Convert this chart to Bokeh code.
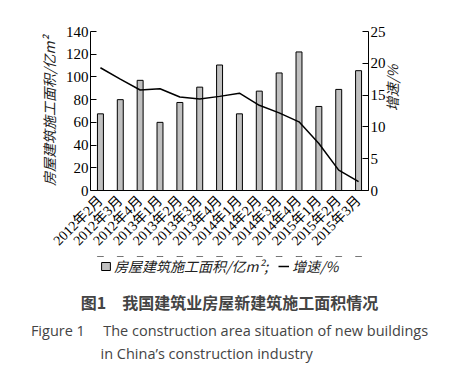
import math
from bokeh.plotting import figure
from bokeh.layouts import column
from bokeh.models import (Range1d, LinearAxis, Legend, LegendItem, Title,
                          FixedTicker, ColumnDataSource)
from bokeh.embed import file_html
from bokeh.resources import INLINE

categories = ["2012年2月", "2012年3月", "2012年4月", "2013年1月", "2013年2月",
              "2013年3月", "2013年4月", "2014年1月", "2014年2月", "2014年3月",
              "2014年4月", "2015年1月", "2015年2月", "2015年3月"]
area = [67.5, 80, 97, 60, 77.5, 91, 110.5, 67.5, 87.5, 103.5, 122, 74, 89, 105.5]
growth = [19.3, 17.5, 15.8, 16.0, 14.7, 14.4, 14.8, 15.3, 13.4, 12.2, 10.8, 7.4, 3.2, 1.4]
left_ticks = [0, 20, 40, 60, 80, 100, 120, 140]
right_ticks = [0, 5, 10, 15, 20, 25]

SERIF = "Liberation Serif, Noto Sans CJK SC"
CJK = "Noto Sans CJK SC"
BAR_STYLE = dict(fill_color="#c0c0c0", line_color="black", line_width=1)
LINE_STYLE = dict(line_color="black", line_width=1.5)

src = ColumnDataSource(dict(cat=categories, area=area, growth=growth))

p = figure(x_range=categories, y_range=Range1d(0, 140),
           width=440, height=256,
           min_border_left=90, min_border_right=72, min_border_top=31,
           min_border_bottom=58,
           output_backend="svg", toolbar_location=None,
           background_fill_color="white", border_fill_color="white")
p.extra_y_ranges = {"pct": Range1d(0, 25)}
p.outline_line_color = None
p.xgrid.grid_line_color = None
p.ygrid.grid_line_color = None
p.x_range.range_padding = 0

p.vbar(x="cat", top="area", width=0.3, source=src, **BAR_STYLE)
p.line(x="cat", y="growth", source=src, y_range_name="pct", **LINE_STYLE)

# left axis
ya = p.yaxis[0]
ya.ticker = FixedTicker(ticks=left_ticks)
ya.axis_label = "房屋建筑施工面积/亿m²"
ya.axis_label_text_font = CJK
ya.axis_label_text_font_style = "italic"
ya.axis_label_text_font_size = "14px"
ya.axis_label_text_color = "#222222"
ya.axis_label_standoff = 4
ya.major_label_text_font = SERIF
ya.major_label_text_font_size = "15px"
ya.major_label_text_color = "black"
ya.major_tick_in = 6
ya.major_tick_out = 0
ya.minor_tick_line_color = None
ya.major_label_standoff = 2

# right axis
ra = LinearAxis(y_range_name="pct", ticker=FixedTicker(ticks=right_ticks))
ra.axis_label = "增速/%"
ra.axis_label_text_font = CJK
ra.axis_label_text_font_style = "italic"
ra.axis_label_text_font_size = "14px"
ra.axis_label_text_color = "#222222"
ra.axis_label_standoff = 3
if "axis_label_orientation" in ra.properties():
    ra.axis_label_orientation = math.pi / 2
ra.major_label_text_font = SERIF
ra.major_label_text_font_size = "15px"
ra.major_label_text_color = "black"
ra.major_tick_in = 6
ra.major_tick_out = 0
ra.minor_tick_line_color = None
ra.major_label_standoff = 2
p.add_layout(ra, "right")

# bottom axis
xa = p.xaxis[0]
xa.major_tick_line_color = None
xa.major_label_orientation = math.pi / 4
xa.major_label_text_font = SERIF
xa.major_label_text_font_size = "14px"
xa.major_label_text_color = "black"
xa.major_label_standoff = 2

# legend + caption figure (reuses the same data, drawn outside its view)
cap = figure(width=440, height=108, x_range=categories, y_range=Range1d(-2, -1),
             output_backend="svg", toolbar_location=None,
             min_border_left=90, min_border_right=72, min_border_top=0,
             min_border_bottom=0,
             border_fill_color="white", background_fill_color="white")
cap.axis.visible = False
cap.grid.visible = False
cap.outline_line_color = None
kb = cap.vbar(x="cat", top="area", width=0.3, source=src, **BAR_STYLE)
kl = cap.line(x="cat", y="growth", source=src, **LINE_STYLE)

legend = Legend(items=[LegendItem(label="房屋建筑施工面积/亿m²;", renderers=[kb]),
                       LegendItem(label="增速/%", renderers=[kl])],
                orientation="horizontal", location=(10, 6),
                label_text_font=CJK, label_text_font_style="italic",
                label_text_font_size="14px", label_text_color="#222222",
                glyph_width=11, glyph_height=10, spacing=10,
                label_standoff=3, label_height=14, padding=0, margin=0,
                border_line_color=None, background_fill_alpha=0)
cap.add_layout(legend, "center")

t1 = Title(text="图1\u3000我国建筑业房屋新建筑施工面积情况", align="center",
           text_font=CJK, text_font_style="bold", text_font_size="16px",
           standoff=10, offset=-3)
t2 = Title(text="Figure 1\u2003 The construction area situation of new buildings",
           align="center", text_font="Open Sans", text_font_style="normal",
           text_font_size="14.5px", standoff=0, offset=-3)
t3 = Title(text="in China’s construction industry", align="left",
           text_font="Open Sans", text_font_style="normal",
           text_font_size="14.5px", offset=10, standoff=4)
cap.add_layout(t1, "below")
cap.add_layout(t2, "below")
cap.add_layout(t3, "below")

open("out.html", "w").write(file_html(column(p, cap, spacing=0), INLINE))
